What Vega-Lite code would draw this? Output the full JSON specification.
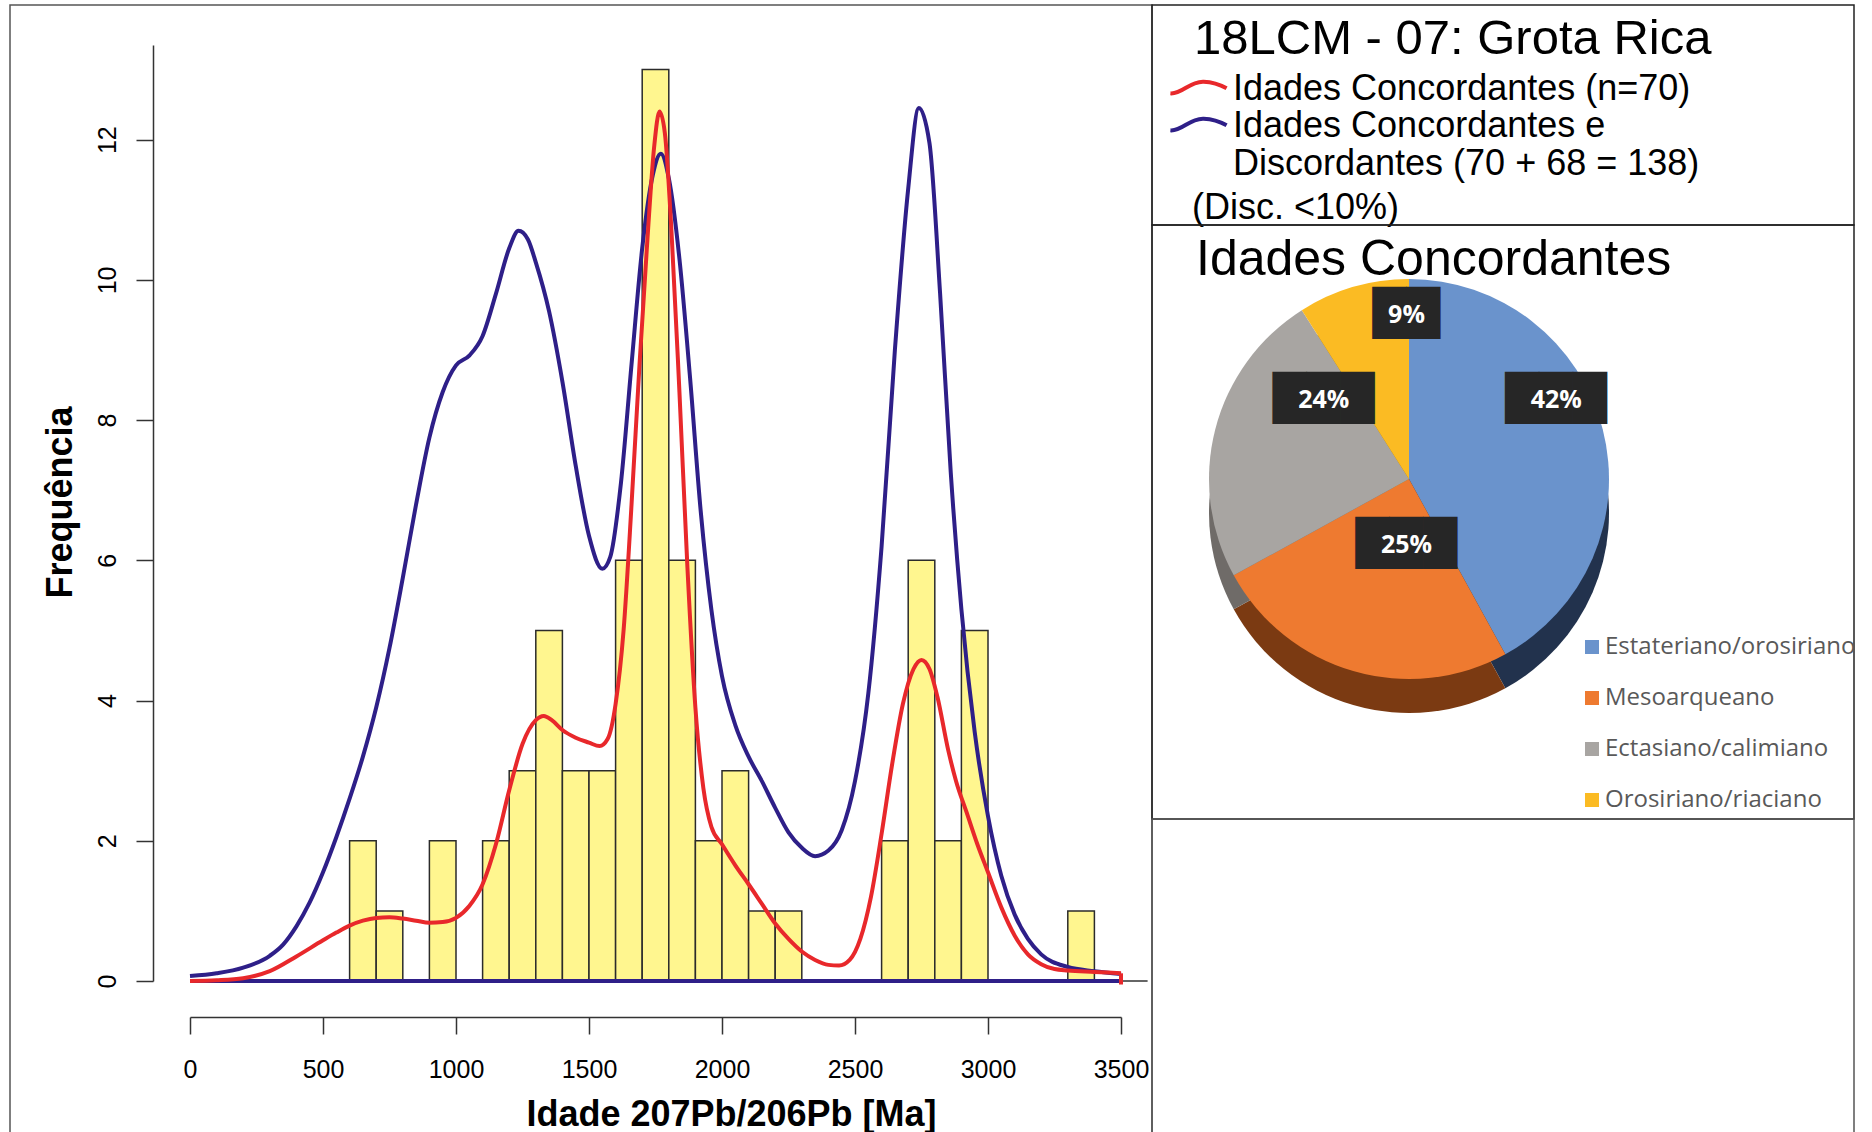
{
  "$schema": "https://vega.github.io/schema/vega-lite/v6.json",
  "padding": {"left": 9, "top": 4, "right": 5, "bottom": 0},
  "background": "white",
  "config": {
    "font": "Liberation Sans",
    "view": {"stroke": null}
  },
  "datasets": {
    "bins": [
      {"start": 600, "end": 700, "count": 2},
      {"start": 700, "end": 800, "count": 1},
      {"start": 900, "end": 1000, "count": 2},
      {"start": 1100, "end": 1200, "count": 2},
      {"start": 1200, "end": 1300, "count": 3},
      {"start": 1300, "end": 1400, "count": 5},
      {"start": 1400, "end": 1500, "count": 3},
      {"start": 1500, "end": 1600, "count": 3},
      {"start": 1600, "end": 1700, "count": 6},
      {"start": 1700, "end": 1800, "count": 13},
      {"start": 1800, "end": 1900, "count": 6},
      {"start": 1900, "end": 2000, "count": 2},
      {"start": 2000, "end": 2100, "count": 3},
      {"start": 2100, "end": 2200, "count": 1},
      {"start": 2200, "end": 2300, "count": 1},
      {"start": 2600, "end": 2700, "count": 2},
      {"start": 2700, "end": 2800, "count": 6},
      {"start": 2800, "end": 2900, "count": 2},
      {"start": 2900, "end": 3000, "count": 5},
      {"start": 3300, "end": 3400, "count": 1}
    ],
    "dens_all": [
      {"series": "all", "age": 0, "freq": 0.07},
      {"series": "all", "age": 100, "freq": 0.11},
      {"series": "all", "age": 200, "freq": 0.19},
      {"series": "all", "age": 300, "freq": 0.36},
      {"series": "all", "age": 350, "freq": 0.52},
      {"series": "all", "age": 400, "freq": 0.78},
      {"series": "all", "age": 450, "freq": 1.12},
      {"series": "all", "age": 500, "freq": 1.55},
      {"series": "all", "age": 550, "freq": 2.05},
      {"series": "all", "age": 600, "freq": 2.6},
      {"series": "all", "age": 650, "freq": 3.2},
      {"series": "all", "age": 700, "freq": 3.9},
      {"series": "all", "age": 750, "freq": 4.75},
      {"series": "all", "age": 800, "freq": 5.75},
      {"series": "all", "age": 850, "freq": 6.8},
      {"series": "all", "age": 900, "freq": 7.75},
      {"series": "all", "age": 950, "freq": 8.4},
      {"series": "all", "age": 1000, "freq": 8.78},
      {"series": "all", "age": 1050, "freq": 8.92},
      {"series": "all", "age": 1100, "freq": 9.2},
      {"series": "all", "age": 1150, "freq": 9.8},
      {"series": "all", "age": 1200, "freq": 10.45},
      {"series": "all", "age": 1235, "freq": 10.7},
      {"series": "all", "age": 1270, "freq": 10.58},
      {"series": "all", "age": 1300, "freq": 10.25},
      {"series": "all", "age": 1350, "freq": 9.55},
      {"series": "all", "age": 1400, "freq": 8.55},
      {"series": "all", "age": 1450, "freq": 7.35},
      {"series": "all", "age": 1500, "freq": 6.35},
      {"series": "all", "age": 1550, "freq": 5.88},
      {"series": "all", "age": 1580, "freq": 6.05},
      {"series": "all", "age": 1620, "freq": 7.1},
      {"series": "all", "age": 1660, "freq": 8.8},
      {"series": "all", "age": 1700, "freq": 10.45},
      {"series": "all", "age": 1740, "freq": 11.5},
      {"series": "all", "age": 1770, "freq": 11.8},
      {"series": "all", "age": 1800, "freq": 11.45},
      {"series": "all", "age": 1840, "freq": 10.3},
      {"series": "all", "age": 1880, "freq": 8.6},
      {"series": "all", "age": 1920, "freq": 6.7},
      {"series": "all", "age": 1960, "freq": 5.3},
      {"series": "all", "age": 2000, "freq": 4.35},
      {"series": "all", "age": 2050, "freq": 3.65},
      {"series": "all", "age": 2100, "freq": 3.2},
      {"series": "all", "age": 2150, "freq": 2.85},
      {"series": "all", "age": 2200, "freq": 2.47},
      {"series": "all", "age": 2250, "freq": 2.12},
      {"series": "all", "age": 2300, "freq": 1.9},
      {"series": "all", "age": 2350, "freq": 1.78},
      {"series": "all", "age": 2400, "freq": 1.86},
      {"series": "all", "age": 2450, "freq": 2.15},
      {"series": "all", "age": 2500, "freq": 2.85},
      {"series": "all", "age": 2550, "freq": 4.1},
      {"series": "all", "age": 2600, "freq": 6.2},
      {"series": "all", "age": 2650, "freq": 9.0},
      {"series": "all", "age": 2700, "freq": 11.3},
      {"series": "all", "age": 2740, "freq": 12.45},
      {"series": "all", "age": 2780, "freq": 11.95},
      {"series": "all", "age": 2820, "freq": 9.8},
      {"series": "all", "age": 2860, "freq": 7.25},
      {"series": "all", "age": 2900, "freq": 5.3},
      {"series": "all", "age": 2950, "freq": 3.55},
      {"series": "all", "age": 3000, "freq": 2.35},
      {"series": "all", "age": 3050, "freq": 1.5},
      {"series": "all", "age": 3100, "freq": 0.95},
      {"series": "all", "age": 3150, "freq": 0.6},
      {"series": "all", "age": 3200, "freq": 0.38},
      {"series": "all", "age": 3300, "freq": 0.2},
      {"series": "all", "age": 3400, "freq": 0.14},
      {"series": "all", "age": 3500, "freq": 0.1}
    ],
    "dens_conc": [
      {"series": "conc", "age": 0, "freq": 0.0},
      {"series": "conc", "age": 100, "freq": 0.01},
      {"series": "conc", "age": 200, "freq": 0.04},
      {"series": "conc", "age": 300, "freq": 0.14},
      {"series": "conc", "age": 400, "freq": 0.35},
      {"series": "conc", "age": 500, "freq": 0.58},
      {"series": "conc", "age": 550, "freq": 0.69},
      {"series": "conc", "age": 600, "freq": 0.79},
      {"series": "conc", "age": 650, "freq": 0.86},
      {"series": "conc", "age": 700, "freq": 0.9},
      {"series": "conc", "age": 750, "freq": 0.91},
      {"series": "conc", "age": 800, "freq": 0.89},
      {"series": "conc", "age": 850, "freq": 0.86},
      {"series": "conc", "age": 900, "freq": 0.83},
      {"series": "conc", "age": 950, "freq": 0.84},
      {"series": "conc", "age": 1000, "freq": 0.9},
      {"series": "conc", "age": 1050, "freq": 1.07},
      {"series": "conc", "age": 1100, "freq": 1.38},
      {"series": "conc", "age": 1150, "freq": 1.95},
      {"series": "conc", "age": 1200, "freq": 2.72},
      {"series": "conc", "age": 1250, "freq": 3.38},
      {"series": "conc", "age": 1300, "freq": 3.72},
      {"series": "conc", "age": 1330, "freq": 3.78},
      {"series": "conc", "age": 1360, "freq": 3.72},
      {"series": "conc", "age": 1400, "freq": 3.58},
      {"series": "conc", "age": 1450, "freq": 3.47},
      {"series": "conc", "age": 1500, "freq": 3.4},
      {"series": "conc", "age": 1540, "freq": 3.35},
      {"series": "conc", "age": 1570, "freq": 3.45},
      {"series": "conc", "age": 1600, "freq": 3.95},
      {"series": "conc", "age": 1630, "freq": 5.0},
      {"series": "conc", "age": 1660, "freq": 6.8},
      {"series": "conc", "age": 1690, "freq": 8.8},
      {"series": "conc", "age": 1720, "freq": 10.6},
      {"series": "conc", "age": 1745, "freq": 11.9},
      {"series": "conc", "age": 1765, "freq": 12.4},
      {"series": "conc", "age": 1785, "freq": 12.1},
      {"series": "conc", "age": 1810, "freq": 10.7},
      {"series": "conc", "age": 1840, "freq": 8.4},
      {"series": "conc", "age": 1870, "freq": 5.9},
      {"series": "conc", "age": 1900, "freq": 3.9},
      {"series": "conc", "age": 1930, "freq": 2.75},
      {"series": "conc", "age": 1960, "freq": 2.2},
      {"series": "conc", "age": 2000, "freq": 1.95},
      {"series": "conc", "age": 2050, "freq": 1.65},
      {"series": "conc", "age": 2100, "freq": 1.38},
      {"series": "conc", "age": 2150, "freq": 1.1},
      {"series": "conc", "age": 2200, "freq": 0.82},
      {"series": "conc", "age": 2250, "freq": 0.6},
      {"series": "conc", "age": 2300, "freq": 0.42},
      {"series": "conc", "age": 2350, "freq": 0.3},
      {"series": "conc", "age": 2400, "freq": 0.23},
      {"series": "conc", "age": 2440, "freq": 0.22},
      {"series": "conc", "age": 2480, "freq": 0.3},
      {"series": "conc", "age": 2520, "freq": 0.6},
      {"series": "conc", "age": 2560, "freq": 1.2},
      {"series": "conc", "age": 2600, "freq": 2.1},
      {"series": "conc", "age": 2640, "freq": 3.1},
      {"series": "conc", "age": 2680, "freq": 3.95},
      {"series": "conc", "age": 2720, "freq": 4.45},
      {"series": "conc", "age": 2750, "freq": 4.58},
      {"series": "conc", "age": 2780, "freq": 4.45},
      {"series": "conc", "age": 2810, "freq": 4.05},
      {"series": "conc", "age": 2850, "freq": 3.3},
      {"series": "conc", "age": 2880, "freq": 2.85},
      {"series": "conc", "age": 2920, "freq": 2.4},
      {"series": "conc", "age": 2960, "freq": 1.95},
      {"series": "conc", "age": 3000, "freq": 1.55},
      {"series": "conc", "age": 3050, "freq": 1.05},
      {"series": "conc", "age": 3100, "freq": 0.65},
      {"series": "conc", "age": 3150, "freq": 0.38},
      {"series": "conc", "age": 3200, "freq": 0.24},
      {"series": "conc", "age": 3250, "freq": 0.17},
      {"series": "conc", "age": 3300, "freq": 0.15},
      {"series": "conc", "age": 3400, "freq": 0.13},
      {"series": "conc", "age": 3500, "freq": 0.11}
    ],
    "pie": [
      {"cat": "Estateriano/orosiriano", "pct": 42, "label": "42%", "k": 1},
      {"cat": "Mesoarqueano", "pct": 25, "label": "25%", "k": 2},
      {"cat": "Ectasiano/calimiano", "pct": 24, "label": "24%", "k": 3},
      {"cat": "Orosiriano/riaciano", "pct": 9, "label": "9%", "k": 4}
    ]
  },
  "bounds": "flush",
  "spacing": 0,
  "resolve": {
    "scale": {"color": "independent", "stroke": "independent"},
    "legend": {"color": "independent", "stroke": "independent"}
  },
  "hconcat": [
    {
      "width": 1142,
      "height": 1140,
      "view": {"stroke": "#555555", "strokeWidth": 1.5},
      "layer": [
        {
          "data": {"name": "bins"},
          "mark": {"type": "bar", "fill": "#FFF68F", "stroke": "#2b2b2b", "strokeWidth": 1.5},
          "encoding": {
            "x": {
              "field": "start", "type": "quantitative",
              "scale": {"domain": [0, 3500], "range": [180, 1111], "nice": false, "zero": false},
              "axis": {
                "orient": "bottom", "offset": -128, "grid": false,
                "domain": true, "domainColor": "#333333", "domainWidth": 1.5,
                "values": [0, 500, 1000, 1500, 2000, 2500, 3000, 3500], "format": "d",
                "tickSize": 17, "tickWidth": 1.5, "tickColor": "#333333",
                "labelFontSize": 25, "labelColor": "black", "labelPadding": 23,
                "labelBaseline": "top", "labelFlush": false, "labelOverlap": false,
                "title": "Idade 207Pb/206Pb [Ma]", "titleFontSize": 36, "titleFontWeight": "bold",
                "titleColor": "black", "titleX": 721, "titleY": 108,
                "titleAlign": "center", "titleBaseline": "alphabetic"
              }
            },
            "x2": {"field": "end"},
            "y": {
              "field": "count", "type": "quantitative",
              "scale": {"domain": [0, 13.35], "range": [976, 40], "nice": false},
              "axis": {
                "orient": "left", "offset": -143, "grid": false,
                "domain": true, "domainColor": "#333333", "domainWidth": 1.5,
                "values": [0, 2, 4, 6, 8, 10, 12], "format": "d",
                "tickSize": 17, "tickWidth": 1.5, "tickColor": "#333333",
                "labelAngle": 270, "labelAlign": "center", "labelBaseline": "bottom",
                "labelPadding": 16, "labelFontSize": 25, "labelColor": "black",
                "title": "Frequência", "titleFontSize": 36, "titleFontWeight": "bold",
                "titleColor": "black", "titleAngle": 270, "titleX": -93, "titleY": 497,
                "titleAlign": "center", "titleBaseline": "middle"
              }
            },
            "y2": {"datum": 0}
          }
        },
        {
          "data": {"values": [{}]},
          "mark": {"type": "rule", "color": "#333333", "strokeWidth": 1.5},
          "encoding": {
            "x": {"datum": 0, "type": "quantitative"},
            "x2": {"datum": 3600},
            "y": {"datum": 0, "type": "quantitative"}
          }
        },
        {
          "data": {"name": "dens_all"},
          "mark": {"type": "line", "strokeWidth": 4, "interpolate": "monotone"},
          "encoding": {
            "x": {"field": "age", "type": "quantitative"},
            "y": {"field": "freq", "type": "quantitative"},
            "stroke": {
              "field": "series", "type": "nominal",
              "scale": {"domain": ["conc", "all"], "range": ["#E8282B", "#2E1F88"]},
              "legend": {
                "orient": "none", "legendX": 1184, "legendY": 10, "padding": 0,
                "title": "18LCM - 07: Grota Rica", "titleFontSize": 49, "titleFontWeight": "normal",
                "titleColor": "black", "titleLimit": 1000, "titlePadding": 13,
                "symbolType": "M-1.37,-0.3C-0.8,-0.25 -0.45,-0.9 0.25,-0.87C0.75,-0.85 1.1,-0.7 1.37,-0.55",
                "symbolSize": 1681, "symbolStrokeWidth": 4, "symbolFillColor": "transparent",
                "symbolOffset": -18,
                "labelFontSize": 36, "labelColor": "black", "labelLimit": 1000,
                "labelOffset": 12, "labelBaseline": "alphabetic",
                "rowPadding": 0,
                "labelExpr": "datum.value == 'conc' ? 'Idades Concordantes (n=70)' : ['Idades Concordantes e', 'Discordantes (70 + 68 = 138)']"
              }
            }
          }
        },
        {
          "data": {"values": [{}]},
          "mark": {"type": "rule", "color": "#2E1F88", "strokeWidth": 4},
          "encoding": {
            "x": {"datum": 0, "type": "quantitative"},
            "x2": {"datum": 3500},
            "y": {"datum": 0, "type": "quantitative"}
          }
        },
        {
          "data": {"name": "dens_conc"},
          "mark": {"type": "line", "strokeWidth": 4, "interpolate": "monotone"},
          "encoding": {
            "x": {"field": "age", "type": "quantitative"},
            "y": {"field": "freq", "type": "quantitative"},
            "stroke": {"field": "series", "type": "nominal"}
          }
        },
        {
          "data": {"values": [{}]},
          "mark": {"type": "rule", "color": "#E8282B", "strokeWidth": 4},
          "encoding": {
            "x": {"datum": 3500, "type": "quantitative"},
            "y": {"datum": -0.05, "type": "quantitative"},
            "y2": {"datum": 0.11}
          }
        }
      ]
    },
    {
      "bounds": "flush",
      "spacing": 0,
      "vconcat": [
        {
          "width": 702,
          "height": 220,
          "view": {"stroke": "#222222", "strokeWidth": 1.5},
          "title": {
            "text": "(Disc. <10%)", "orient": "bottom", "anchor": "start", "frame": "group",
            "fontSize": 36, "fontWeight": "normal", "color": "black",
            "offset": -6, "dx": 40, "baseline": "alphabetic"
          },
          "data": {"values": []},
          "mark": "point"
        },
        {
          "width": 702,
          "height": 594,
          "view": {"stroke": "#222222", "strokeWidth": 1.5},
          "title": {
            "text": "Idades Concordantes", "anchor": "start", "frame": "group",
            "fontSize": 50, "fontWeight": "normal", "color": "black",
            "offset": -100, "dx": 44, "baseline": "alphabetic"
          },
          "data": {"name": "pie"},
          "resolve": {"scale": {"color": "independent"}, "legend": {"color": "independent"}},
          "layer": [
            {
              "mark": {"type": "arc", "outerRadius": 200, "xOffset": -94, "yOffset": -9},
              "encoding": {
                "theta": {"field": "pct", "type": "quantitative", "stack": true},
                "order": {"field": "k"},
                "color": {
                  "field": "cat", "type": "nominal",
                  "scale": {"domain": ["Estateriano/orosiriano", "Mesoarqueano", "Ectasiano/calimiano", "Orosiriano/riaciano"],
                            "range": ["#22324D", "#7B3A12", "#6F6B68", "#A07810"]},
                  "legend": null
                }
              }
            },
            {
              "mark": {"type": "arc", "outerRadius": 200, "xOffset": -94, "yOffset": -43},
              "encoding": {
                "theta": {"field": "pct", "type": "quantitative", "stack": true},
                "order": {"field": "k"},
                "color": {
                  "field": "cat", "type": "nominal",
                  "scale": {"domain": ["Estateriano/orosiriano", "Mesoarqueano", "Ectasiano/calimiano", "Orosiriano/riaciano"],
                            "range": ["#6A93CC", "#EE7A30", "#A8A5A2", "#FBBB23"]},
                  "legend": {
                    "orient": "none", "legendX": 428, "legendY": 410, "padding": 0,
                    "title": null, "symbolType": "square", "symbolSize": 196, "symbolStrokeWidth": 0,
                    "labelFont": "Open Sans", "labelFontSize": 24, "labelColor": "#595959",
                    "labelOffset": 1, "labelLimit": 500, "rowPadding": 27
                  }
                }
              }
            },
            {
              "mark": {"type": "text", "radius": 120, "xOffset": -63, "yOffset": -92,
                       "font": "DejaVu Sans", "fontSize": 44, "color": "#262626",
                       "align": "center", "baseline": "middle"},
              "encoding": {
                "theta": {"field": "pct", "type": "quantitative", "stack": true},
                "order": {"field": "k"},
                "text": {"condition": {"test": "datum.pct < 10", "value": "██"}, "value": "███"}
              }
            },
            {
              "mark": {"type": "text", "radius": 120, "xOffset": -63, "yOffset": -92,
                       "font": "Open Sans", "fontWeight": "bold", "fontSize": 25, "color": "white",
                       "align": "center", "baseline": "middle"},
              "encoding": {
                "theta": {"field": "pct", "type": "quantitative", "stack": true},
                "order": {"field": "k"},
                "text": {"field": "label", "type": "nominal"}
              }
            }
          ]
        },
        {
          "width": 702,
          "height": 326,
          "view": {"stroke": "#555555", "strokeWidth": 1.5},
          "data": {"values": []},
          "mark": "point"
        }
      ]
    }
  ]
}
